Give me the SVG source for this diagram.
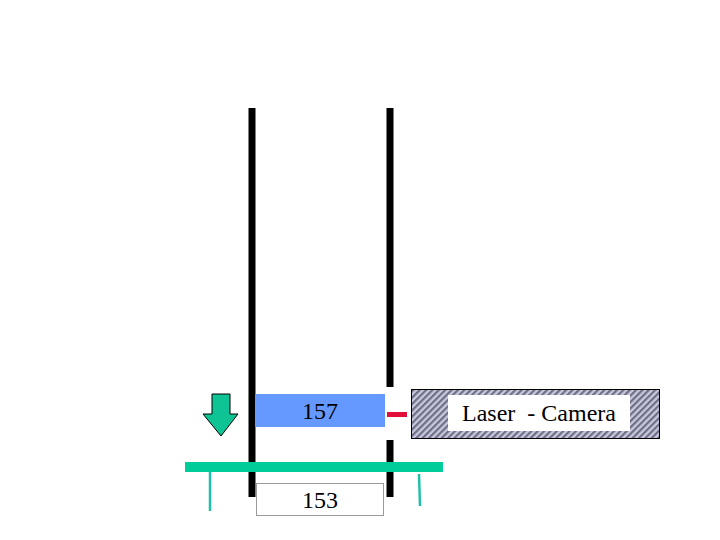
<svg xmlns="http://www.w3.org/2000/svg" width="720" height="540" viewBox="0 0 720 540">
<defs>
<style>
.t{font-family:"Liberation Serif",serif;font-size:24px;fill:#000;text-anchor:middle}
.rail{stroke:#000;stroke-width:7}
.tick{stroke:#1fc0a8;stroke-width:2.5}
</style>
<pattern id="hatch" width="4.5" height="4.5" patternUnits="userSpaceOnUse" patternTransform="rotate(45)">
<rect width="4.5" height="4.5" fill="#c8c8e0"/>
<rect width="2.2" height="4.5" fill="#6f6f84"/>
</pattern>
</defs>
<rect width="720" height="540" fill="#fff"/>
<g id="connectors">
<line class="rail" x1="252" y1="108" x2="252" y2="497"/>
<line class="rail" x1="390" y1="108" x2="390" y2="387"/>
<line class="rail" x1="390" y1="440" x2="390" y2="497"/>
<rect x="387" y="412" width="20" height="5" fill="#e0103a"/>
<line class="tick" x1="210" y1="472" x2="210" y2="511"/>
<line class="tick" x1="419" y1="474" x2="420" y2="506"/>
</g>
<g id="arrow"><path d="M212 394 H230 V414 H238 L221 436 L203 414 H212 Z" fill="#0fc494" stroke="#000" stroke-width="1"/></g>
<g id="n157"><rect x="255" y="394" width="130" height="33" fill="#6699ff"/><text class="t" x="320" y="419">157</text></g>
<g id="bar"><rect x="185" y="462" width="258" height="10" fill="#00cc99"/></g>
<g id="n153"><rect x="256.5" y="483.5" width="127" height="32" fill="#fff" stroke="#000" stroke-width="0.8" stroke-dasharray="1,1"/><text class="t" x="320" y="508">153</text></g>
<g id="laser"><rect x="411.5" y="389.5" width="248" height="49" fill="url(#hatch)" stroke="#000" stroke-width="1"/><rect x="448" y="395" width="182" height="36" fill="#fff"/><text class="t" x="539" y="421" xml:space="preserve">Laser  - Camera</text></g>
</svg>
